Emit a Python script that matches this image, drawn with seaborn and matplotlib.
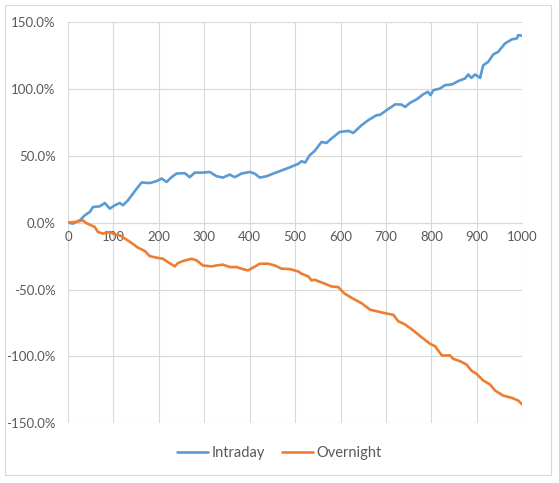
import numpy as np
import pandas as pd
import seaborn as sns
import matplotlib
matplotlib.use("Agg")
import matplotlib.pyplot as plt
from matplotlib.ticker import PercentFormatter, MultipleLocator
from matplotlib.patches import Rectangle
from matplotlib.lines import Line2D

# ---- data ----
intraday_x = [0, 11, 26, 37, 48, 55, 70, 81, 92, 103, 114, 121, 132, 143, 154, 162, 180, 195,
              206, 217, 228, 239, 257, 268, 279, 297, 312, 327, 341, 356, 367, 382, 400, 411,
              422, 437, 452, 470, 488, 507, 514, 522, 532, 543, 558, 569, 580, 598, 617, 628,
              646, 661, 679, 687, 701, 720, 734, 742, 753, 768, 782, 792, 798, 804, 819, 830,
              845, 859, 874, 881, 888, 896, 907, 914, 925, 936, 947, 962, 977, 988, 991, 1000]
intraday_y = [0, -0.7, 1.7, 5.5, 8, 11.7, 12.2, 14.7, 10.5, 13, 14.7, 13, 16.7, 21.7, 26.6, 30,
              29.6, 31, 33, 30.4, 34, 36.7, 37, 34, 37.4, 37.4, 37.9, 34.7, 33.7, 35.9, 34,
              36.7, 37.9, 36.7, 33.7, 34.7, 36.7, 39, 41.3, 44, 45.9, 44.9, 50.4, 53.6, 60.3,
              59.6, 62.9, 67.8, 68.6, 67.1, 72.8, 76.6, 80.3, 80.6, 84, 88.4, 88.3, 86.5, 89.6,
              92.3, 96, 97.8, 95.3, 99, 100.3, 102.8, 103.3, 105.8, 107.8, 110.8, 108.2, 110.8,
              108.2, 117.7, 120.2, 125.7, 127.7, 134, 137, 137.7, 140.2, 139.7]

overnight_x = [0, 15, 33, 40, 51, 59, 66, 77, 92, 103, 114, 129, 140, 154, 169, 180, 195, 209,
               220, 235, 242, 253, 272, 283, 297, 316, 327, 341, 356, 371, 382, 396, 407, 422,
               441, 455, 470, 488, 507, 514, 529, 536, 543, 562, 580, 595, 609, 628, 646, 665,
               679, 698, 716, 727, 742, 760, 778, 797, 808, 823, 841, 848, 863, 877, 888, 899,
               914, 929, 940, 958, 977, 991, 1000]
overnight_y = [0, 0.5, 1.7, -0.3, -2, -3.3, -7, -8.2, -7, -8.8, -9.5, -12.7, -15.2, -18.7,
               -21.2, -25, -26.2, -27, -29.5, -32.7, -30.2, -28.7, -27, -28.2, -32, -32.7, -32,
               -31.4, -33.2, -33.2, -34.4, -35.7, -33.7, -30.7, -30.7, -32, -34.4, -34.7, -36.5,
               -38.2, -40.2, -43.2, -42.7, -45.2, -47.7, -48.2, -53.1, -56.9, -60.2, -65.1,
               -66.2, -67.7, -68.9, -73.7, -76.1, -80.6, -85.6, -90.6, -92.4, -99.3, -99.3,
               -101.8, -103.6, -106, -110.6, -113, -118, -121, -125.5, -129.3, -131, -133, -136]

series_names = ["Intraday", "Overnight"]
colors = ["#5B9BD5", "#ED7D31"]

df = pd.concat([
    pd.DataFrame({"x": intraday_x, "y": intraday_y, "series": series_names[0]}),
    pd.DataFrame({"x": overnight_x, "y": overnight_y, "series": series_names[1]}),
], ignore_index=True)

sns.set_style("white")
plt.rcParams["font.family"] = ["Lato", "DejaVu Sans"]
plt.rcParams["axes.unicode_minus"] = False

W, H = 559, 483
fig = plt.figure(figsize=(W / 100, H / 100), dpi=100)
ax = fig.add_axes([68 / W, (H - 423.3) / H, (522.3 - 68) / W, (423.3 - 22) / H])

sns.lineplot(data=df, x="x", y="y", hue="series", palette=colors, ax=ax,
             linewidth=1.9, legend=False, sort=False, estimator=None)

ax.set_xlim(0, 1000)
ax.set_ylim(-150, 150)
ax.xaxis.set_major_locator(MultipleLocator(100))
ax.yaxis.set_major_locator(MultipleLocator(50))
ax.yaxis.set_major_formatter(PercentFormatter(xmax=100, decimals=1))
ax.grid(True, color="#D9D9D9", linewidth=0.8)
ax.set_axisbelow(True)
ax.set_xlabel("")
ax.set_ylabel("")

for s in ["top", "right", "left"]:
    ax.spines[s].set_visible(False)
ax.spines["bottom"].set_position(("data", 0))
ax.spines["bottom"].set_color("#D9D9D9")
ax.spines["bottom"].set_linewidth(0.8)
ax.spines["bottom"].set_zorder(0.5)

ax.tick_params(axis="both", length=0, labelsize=9.5, colors="#595959")
ax.tick_params(axis="x", pad=6)
ax.tick_params(axis="y", pad=9)

handles = [Line2D([0], [0], color=c, lw=1.9) for c in colors]
fig.legend(handles, series_names, loc="center", bbox_to_anchor=(0.5, 1 - 452.7 / H),
           ncol=2, frameon=False, fontsize=10.5, labelcolor="#595959",
           handlelength=2.1, handletextpad=0.25, columnspacing=1.2)

fig.patches.append(Rectangle((5 / W, (H - 475) / H), 546 / W, 470 / H,
                             transform=fig.transFigure, fill=False,
                             edgecolor="#D9D9D9", linewidth=0.8))

fig.savefig("out.png", dpi=100, facecolor="white")
